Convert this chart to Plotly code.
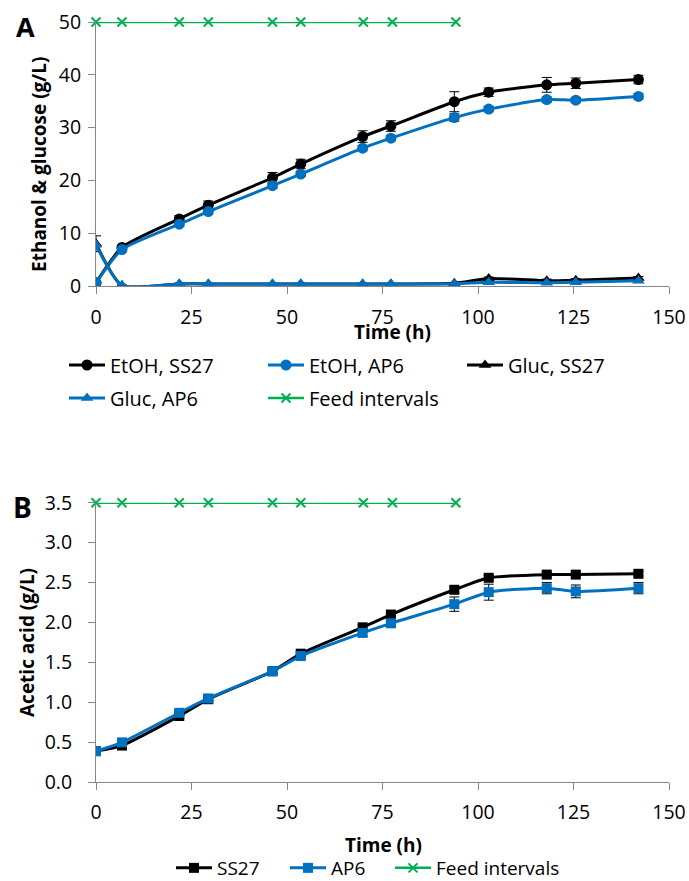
import plotly.graph_objects as go

# ---------------- data ----------------
time_h = [0, 6.8, 21.8, 29.4, 46.2, 53.6, 69.8, 77.2, 93.8, 102.8, 118, 125.6, 142]

etoh_ss27 = [0.6, 7.3, 12.7, 15.3, 20.5, 23.1, 28.3, 30.3, 34.9, 36.7, 38.1, 38.4, 39.1]
etoh_ss27_err = [0.3, 0.4, 0.6, 0.8, 1.0, 0.9, 1.1, 1.0, 1.9, 0.8, 1.4, 1.0, 0.8]
etoh_ap6 = [0.6, 6.9, 11.7, 14.1, 19.0, 21.2, 26.1, 28.0, 31.9, 33.5, 35.3, 35.2, 35.9]
etoh_ap6_err = [0.2, 0.3, 0.4, 0.4, 0.5, 0.4, 0.5, 0.5, 0.7, 0.5, 0.5, 0.5, 0.5]

gluc_ss27 = [8.0, 0.1, 0.4, 0.4, 0.4, 0.4, 0.4, 0.4, 0.5, 1.4, 1.0, 1.1, 1.5]
gluc_ss27_err = [1.5, 0.1, 0.1, 0.1, 0.1, 0.1, 0.1, 0.1, 0.1, 0.3, 0.3, 0.3, 0.3]
gluc_ap6 = [7.8, 0.1, 0.4, 0.4, 0.4, 0.4, 0.4, 0.4, 0.4, 0.7, 0.6, 0.7, 1.0]

feed_times = [0, 6.8, 21.8, 29.4, 46.2, 53.6, 70.0, 77.6, 94.2]
feed_level_a = [50, 50, 50, 50, 50, 50, 50, 50, 50]
feed_level_b = [3.5, 3.5, 3.5, 3.5, 3.5, 3.5, 3.5, 3.5, 3.5]

acetic_ss27 = [0.39, 0.46, 0.83, 1.04, 1.39, 1.61, 1.94, 2.10, 2.41, 2.56, 2.60, 2.60, 2.61]
acetic_ss27_err = [0.02, 0.02, 0.03, 0.02, 0.02, 0.03, 0.03, 0.03, 0.04, 0.03, 0.03, 0.03, 0.03]
acetic_ap6 = [0.39, 0.50, 0.87, 1.05, 1.39, 1.58, 1.87, 1.99, 2.23, 2.38, 2.43, 2.39, 2.43]
acetic_ap6_err = [0.02, 0.02, 0.03, 0.03, 0.03, 0.03, 0.04, 0.04, 0.09, 0.10, 0.07, 0.08, 0.07]

x_ticks = [0, 25, 50, 75, 100, 125, 150]
ya_ticks = [0, 10, 20, 30, 40, 50]
yb_ticks = [0.0, 0.5, 1.0, 1.5, 2.0, 2.5, 3.0, 3.5]
yb_ticktext = ["0.0", "0.5", "1.0", "1.5", "2.0", "2.5", "3.0", "3.5"]

# ---------------- style ----------------
W, H = 689, 881
BLACK = "#000000"
BLUE = "#0070C0"
GREEN = "#00B050"
AXC = "#868686"
FONT = "Open Sans"


def px_x(p):
    return p / W


def px_y(p):
    return 1 - p / H


fig = go.Figure()


def err(vals):
    return dict(type="data", array=vals, visible=True, color=BLACK, thickness=1, width=5)


def series(x, y, name, color, symbol, size, xa, ya, legend, e=None):
    fig.add_trace(go.Scatter(
        x=x, y=y, name=name, mode="lines+markers",
        line=dict(color=color, width=3, shape="spline", smoothing=0.6),
        marker=dict(color=color, symbol=symbol, size=size),
        error_y=err(e) if e is not None else None,
        xaxis=xa, yaxis=ya, legend=legend,
    ))


# Panel A
series(time_h, etoh_ss27, "EtOH, SS27", BLACK, "circle", 11, "x", "y", "legend", etoh_ss27_err)
series(time_h, etoh_ap6, "EtOH, AP6", BLUE, "circle", 11, "x", "y", "legend", etoh_ap6_err)
series(time_h, gluc_ss27, "Gluc, SS27", BLACK, "triangle-up", 11, "x", "y", "legend", gluc_ss27_err)
series(time_h, gluc_ap6, "Gluc, AP6", BLUE, "triangle-up", 11, "x", "y", "legend2")
fig.add_trace(go.Scatter(
    x=feed_times, y=feed_level_a, name="Feed intervals", mode="lines+markers",
    line=dict(color=GREEN, width=2.5),
    marker=dict(symbol="x-thin", size=9, line=dict(color=GREEN, width=2), color=GREEN),
    cliponaxis=False, xaxis="x", yaxis="y", legend="legend2",
))

# Panel B
series(time_h, acetic_ss27, "SS27", BLACK, "square", 10, "x2", "y2", "legend3", acetic_ss27_err)
series(time_h, acetic_ap6, "AP6", BLUE, "square", 10, "x2", "y2", "legend4", acetic_ap6_err)
fig.add_trace(go.Scatter(
    x=feed_times, y=feed_level_b, name="Feed intervals", mode="lines+markers",
    line=dict(color=GREEN, width=2.5),
    marker=dict(symbol="x-thin", size=9, line=dict(color=GREEN, width=2), color=GREEN),
    cliponaxis=False, xaxis="x2", yaxis="y2", legend="legend5",
))

axis_common = dict(
    showline=True, linecolor=AXC, linewidth=1,
    ticks="outside", ticklen=7, tickcolor=AXC, tickwidth=1,
    showgrid=False, zeroline=False,
    tickfont=dict(family=FONT, size=19.5, color=BLACK),
)

leg_common = dict(orientation="h", xanchor="left", yanchor="middle", itemwidth=36,
                  bgcolor="rgba(0,0,0,0)")

xdom = [px_x(96), px_x(669)]
fig.update_layout(
    width=W, height=H,
    margin=dict(l=0, r=0, t=0, b=0, autoexpand=False),
    paper_bgcolor="white", plot_bgcolor="white",
    font=dict(family=FONT, color=BLACK),
    xaxis=dict(domain=xdom, range=[0, 150], tickvals=x_ticks, anchor="y",
               ticklabelstandoff=7, **axis_common),
    yaxis=dict(domain=[px_y(286), px_y(22)], range=[0, 50], tickvals=ya_ticks, anchor="x",
               ticklabelstandoff=3, **axis_common),
    xaxis2=dict(domain=xdom, range=[0, 150], tickvals=x_ticks, anchor="y2",
                ticklabelstandoff=5, **axis_common),
    yaxis2=dict(domain=[px_y(782.3), px_y(502.7)], range=[0, 3.5], tickvals=yb_ticks,
                ticktext=yb_ticktext, anchor="x2", ticklabelstandoff=12, **axis_common),
    legend=dict(x=px_x(64), y=px_y(365), entrywidth=148,
                font=dict(family=FONT, size=20, color=BLACK), **leg_common),
    legend2=dict(x=px_x(64), y=px_y(398), entrywidth=148,
                 font=dict(family=FONT, size=20, color=BLACK), **leg_common),
    legend3=dict(x=px_x(171), y=px_y(868),
                 font=dict(family=FONT, size=19, color=BLACK), **leg_common),
    legend4=dict(x=px_x(285), y=px_y(868),
                 font=dict(family=FONT, size=19, color=BLACK), **leg_common),
    legend5=dict(x=px_x(390), y=px_y(868),
                 font=dict(family=FONT, size=19, color=BLACK), **leg_common),
    showlegend=True,
)

annots = [
    dict(text="<b>A</b>", x=px_x(25), y=px_y(26), size=27, angle=0),
    dict(text="<b>B</b>", x=px_x(22), y=px_y(507), size=28, angle=0),
    dict(text="<b>Time (h)</b>", x=px_x(392), y=px_y(332), size=19, angle=0),
    dict(text="<b>Time (h)</b>", x=px_x(383), y=px_y(845), size=19, angle=0),
    dict(text="<b>Ethanol &amp; glucose (g/L)</b>", x=px_x(39), y=px_y(165), size=19, angle=-90),
    dict(text="<b>Acetic acid (g/L)</b>", x=px_x(27), y=px_y(643), size=19, angle=-90),
]
for a in annots:
    fig.add_annotation(text=a["text"], x=a["x"], y=a["y"], xref="paper", yref="paper",
                       xanchor="center", yanchor="middle", showarrow=False, textangle=a["angle"],
                       font=dict(family=FONT, size=a["size"], color=BLACK))

fig.write_html("out.html")
